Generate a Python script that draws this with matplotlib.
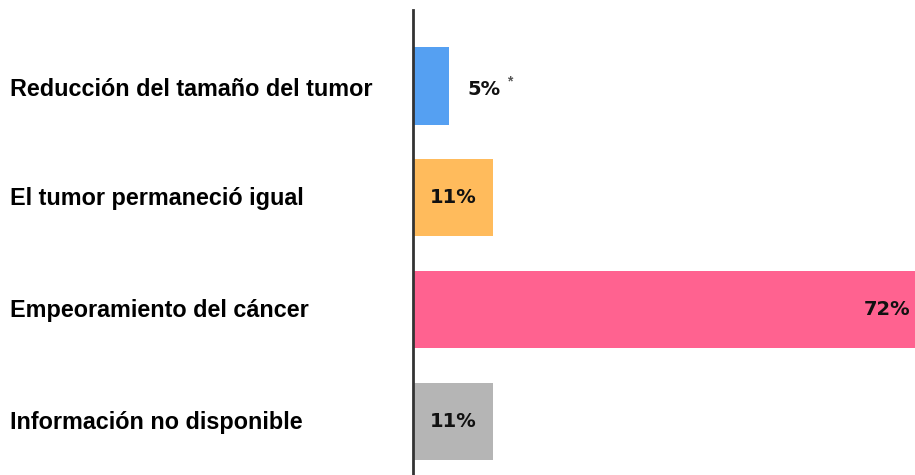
import matplotlib
matplotlib.use("Agg")
import matplotlib.pyplot as plt

categories = ["Reducción del tamaño del tumor", "El tumor permaneció igual",
              "Empeoramiento del cáncer", "Información no disponible"]
values = [5, 11, 72, 11]
value_labels = ["5%", "11%", "72%", "11%"]
colors = ["#55A0F2", "#FFBB5C", "#FF6290", "#B5B5B5"]

plt.rcParams['font.family'] = ['Liberation Sans', 'DejaVu Sans']

fig = plt.figure(figsize=(9.15, 4.75), dpi=100)
ax = fig.add_axes([413/915, 0, 1 - 413/915, 465/475])

xmax = (915 - 413) / (80 / 11)
ax.barh(range(len(values)), values, height=0.69, color=colors)
ax.set_xlim(0, xmax)
ax.set_ylim(3.48, -0.68)

for s in ['top', 'right', 'bottom']:
    ax.spines[s].set_visible(False)
ax.spines['left'].set_linewidth(2)
ax.spines['left'].set_color('#333333')
ax.set_xticks([])
ax.set_yticks([])

vfont = dict(family=['DejaVu Sans'], fontsize=14, fontweight='bold', color='#111111')

for i, (cat, v, lab) in enumerate(zip(categories, values, value_labels)):
    ax.annotate(cat, xy=(0, i), xycoords=('figure fraction', 'data'),
                xytext=(10, -3 if i == 0 else -1), textcoords='offset pixels',
                fontsize=16.8, fontweight='bold', ha='left', va='center', annotation_clip=False)
    if v >= xmax:
        ax.annotate(lab, xy=(xmax, i), xytext=(-5, 0), textcoords='offset pixels',
                    ha='right', va='center', **vfont)
    elif v < 8:
        ax.annotate(lab, xy=(v, i), xytext=(18, -3), textcoords='offset pixels',
                    ha='left', va='center', **vfont)
        ax.annotate("*", xy=(v, i), xytext=(58, 5), textcoords='offset pixels',
                    fontsize=10, fontweight='bold', ha='left', va='center', color='#555555')
    else:
        ax.annotate(lab, xy=(v / 2, i), xytext=(0, 0), textcoords='offset pixels',
                    ha='center', va='center', **vfont)

fig.savefig("out.png", dpi=100)
